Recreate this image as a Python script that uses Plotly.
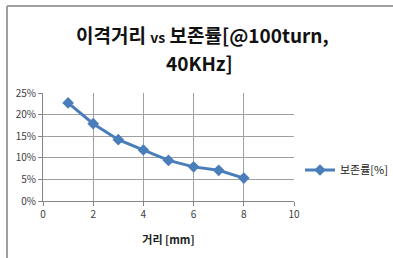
import plotly.graph_objects as go

distance_mm = [1, 2, 3, 4, 5, 6, 7, 8]
retention_pct = [0.227, 0.179, 0.142, 0.118, 0.094, 0.079, 0.071, 0.053]
series_name = "보존률[%]"
title_line1 = "이격거리 <span style='font-size:14px'>vs</span> 보존률[@100turn,"
title_line2 = "40KHz]"
x_title = "거리 [mm]"

W, H = 393, 258
L, R, T, B = 43, 99, 93, 57
pw, ph = W - L - R, H - T - B

def px(x):
    return (x - L) / pw

def py(y):
    return 1 - (y - T) / ph

fig = go.Figure()
fig.add_trace(go.Scatter(
    x=distance_mm, y=retention_pct, name=series_name,
    mode="lines+markers",
    line=dict(color="#4a7ebb", width=3),
    marker=dict(symbol="diamond", size=9, color="#4a7ebb"),
))

grid = "#a0a0a0"
fig.update_layout(
    width=W, height=H,
    margin=dict(l=L, r=R, t=T, b=B, autoexpand=False),
    paper_bgcolor="white", plot_bgcolor="white",
    font=dict(family="Noto Sans CJK KR, Noto Sans", size=10, color="#404040"),
    showlegend=True,
    legend=dict(x=px(300), y=py(170), xanchor="left", yanchor="middle",
                font=dict(size=11, color="#222"), bgcolor="rgba(0,0,0,0)",
                itemwidth=30),
    xaxis=dict(range=[0, 10], dtick=2, showgrid=True, gridcolor=grid, gridwidth=1,
               showline=True, linecolor="#868686", ticks="outside", ticklen=4,
               tickcolor="#868686", zeroline=False, fixedrange=True,
               title=dict(text="<b>" + x_title + "</b>", font=dict(size=11, color="#222"),
                          standoff=16)),
    yaxis=dict(range=[0, 0.25], dtick=0.05, tickformat=".0%", showgrid=True,
               gridcolor=grid, gridwidth=1, showline=True, linecolor="#868686",
               ticks="outside", ticklen=4, tickcolor="#868686", zeroline=False,
               fixedrange=True),
    shapes=[
        dict(type="line", xref="paper", yref="paper", x0=px(7), x1=px(400),
             y0=py(6), y1=py(6), line=dict(color="#a0a0a0", width=2)),
        dict(type="line", xref="paper", yref="paper", x0=px(7), x1=px(7),
             y0=py(6), y1=py(270), line=dict(color="#a0a0a0", width=2)),
    ],
    annotations=[
        dict(text="<b>" + title_line1 + "</b>", xref="paper", yref="paper",
             x=px(202), y=py(35), xanchor="center", yanchor="middle",
             showarrow=False, font=dict(size=19, color="#111", family="Noto Sans CJK KR")),
        dict(text="<b>" + title_line2 + "</b>", xref="paper", yref="paper",
             x=px(199), y=py(62), xanchor="center", yanchor="middle",
             showarrow=False, font=dict(size=19, color="#111", family="Noto Sans CJK KR")),
    ],
)

fig.write_html("out.html", config={"displayModeBar": False},
               post_script="document.body.style.margin='0';")
